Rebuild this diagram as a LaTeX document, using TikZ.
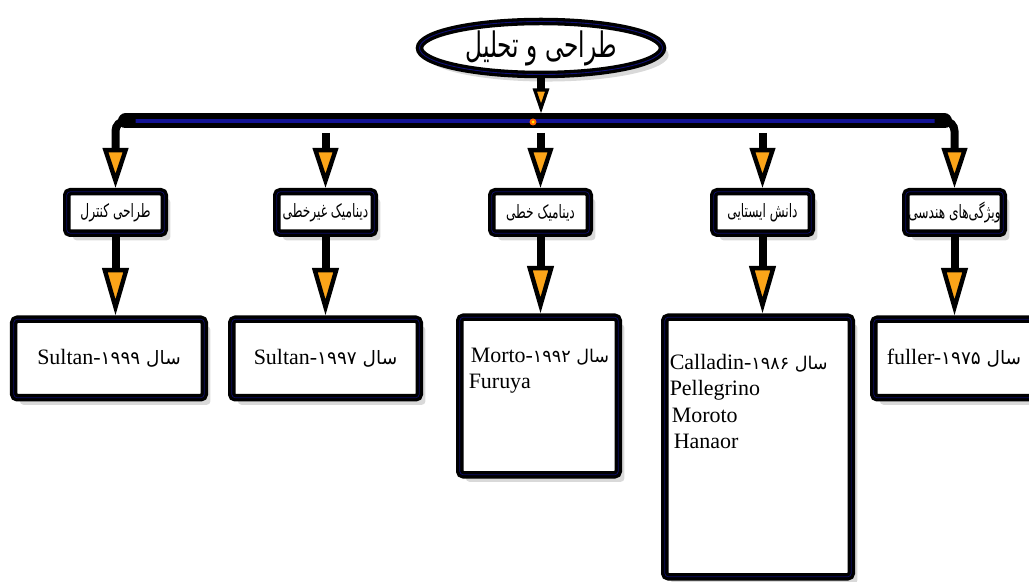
\documentclass[tikz,border=0pt]{standalone}
\usepackage{fontspec}
\setmainfont{Liberation Serif}
\newfontfamily\arabicfont[Script=Arabic]{DejaVu Sans}
\newfontfamily\arabicnarrow[Script=Arabic, FakeStretch=0.66]{DejaVu Sans}
\TeXXeTstate=1
\usetikzlibrary{positioning}
\usetikzlibrary{shapes.geometric}
\usetikzlibrary{arrows.meta}
\usetikzlibrary{shadows}
\definecolor{barblue}{RGB}{20,20,150}
\definecolor{flame}{RGB}{252,165,25}

\begin{document}
\begin{tikzpicture}[
    boxframe/.style={draw=black, line width=0.15cm, fill=white, rounded corners=2pt,
        drop shadow={shadow xshift=3.5pt, shadow yshift=-4pt, opacity=0.3},
        postaction={draw=barblue!70!black, line width=0.4pt}},
    topic/.style={boxframe, minimum width=1.95cm, minimum height=0.83cm, inner sep=1pt,
        font=\arabicnarrow\fontsize{10.5}{12}\selectfont},
    yearbox/.style={boxframe, inner sep=0pt, anchor=north, font=\fontsize{12.5}{14.8}\selectfont},
    rootnode/.style={ellipse, draw=black, line width=0.15cm, fill=white, inner sep=0pt,
        minimum width=4.86cm, minimum height=1.06cm,
        drop shadow={shadow xshift=3.5pt, shadow yshift=-4pt, opacity=0.3},
        postaction={draw=barblue!80!black, line width=0.5pt},
        font=\arabicnarrow\fontsize{20}{22}\selectfont},
    flow/.style={draw=black, line width=0.16cm},
    bushead/.style={-{Triangle[length=0.8cm, width=0.5cm, line width=2.5pt, fill=flame]}},
    boxhead/.style={-{Triangle[length=0.95cm, width=0.52cm, line width=2.5pt, fill=flame]}},
    smallhead/.style={-{Triangle[length=0.5cm, width=0.32cm, line width=1.8pt, fill=flame]}}
]
\useasboundingbox (0,0) rectangle (20.58,-11.64);

% top
\node[rootnode] (root) at (10.82,-0.96) {\beginR طراحی و تحلیل\endR};
\coordinate (bus) at (10.82,-2.42);

% topics
\node[topic] (t1) at (2.31,-4.25) {\beginR طراحی کنترل\endR};
\node[topic] (t2) at (6.51,-4.25) {\beginR دینامیک غیرخطی\endR};
\node[topic] (t3) at (10.81,-4.25) {\beginR دینامیک خطی\endR};
\node[topic] (t4) at (15.25,-4.25) {\beginR دانش ایستایی\endR};
\node[topic] (t5) at (19.09,-4.25) {\beginR ویژگی‌های هندسی\endR};

% years
\node[yearbox] (y1) at (2.18,-6.31) {\parbox[c][1.57cm][t]{3.81cm}{\centering\vspace*{0.6cm}Sultan-{\arabicfont\fontsize{10.5}{14.8}\selectfont ۱۹۹۹ \beginR سال\endR}}};
\node[yearbox] (y2) at (6.51,-6.31) {\parbox[c][1.57cm][t]{3.75cm}{\centering\vspace*{0.6cm}Sultan-{\arabicfont\fontsize{10.5}{14.8}\selectfont ۱۹۹۷ \beginR سال\endR}}};
\node[yearbox] (y3) at (10.78,-6.27) {\parbox[c][3.15cm][t]{3.17cm}{\raggedright\vspace*{0.62cm}\hspace*{0.22cm}Morto-{\arabicfont\fontsize{10}{14.8}\selectfont ۱۹۹۲ \beginR سال\endR}\\
    \hspace*{0.18cm}Furuya}};
\node[yearbox] (y4) at (15.16,-6.27) {\parbox[c][5.19cm][t]{3.73cm}{\raggedright\vspace*{0.75cm}\hspace*{0.1cm}Calladin-{\arabicfont\fontsize{10}{14.8}\selectfont ۱۹۸۶ \beginR سال\endR}\\
    \hspace*{0.1cm}Pellegrino\\
    \hspace*{0.14cm}Moroto\\
    \hspace*{0.18cm}Hanaor}};
\node[yearbox] (y5) at (19.15,-6.31) {\parbox[c][1.57cm][t]{3.35cm}{\raggedright\vspace*{0.6cm}\hspace*{0.26cm}fuller-{\arabicfont\fontsize{10.5}{14.8}\selectfont ۱۹۷۵ \beginR سال\endR}}};

% bus
\draw[flow, smallhead] (root.south) -- ([yshift=0.15cm]bus);
\draw[black, line width=0.3cm, line cap=round] ([xshift=0.2cm]bus -| t1) -- ([xshift=-0.2cm]bus -| t5);
\draw[barblue, line width=0.07cm] ([xshift=0.3cm]bus -| t1) -- ([xshift=-0.3cm]bus -| t5);
\fill[orange!80!red] (10.66,-2.44) circle [radius=0.07];
\fill[yellow] (10.66,-2.44) circle [radius=0.03];

\draw[flow, bushead, rounded corners=0.2cm] ([xshift=0.4cm]bus -| t1) -| (t1.north);
\draw[flow, bushead] ([yshift=-0.24cm]bus -| t2) -- (t2.north);
\draw[flow, bushead] ([yshift=-0.24cm]bus -| t3) -- (t3.north);
\draw[flow, bushead] ([yshift=-0.24cm]bus -| t4) -- (t4.north);
\draw[flow, bushead, rounded corners=0.2cm] ([xshift=-0.4cm]bus -| t5) -| (t5.north);

% down
\draw[flow, boxhead] (t1.south) -- (t1.south |- y1.north);
\draw[flow, boxhead] (t2.south) -- (t2.south |- y2.north);
\draw[flow, boxhead] (t3.south) -- (t3.south |- y3.north);
\draw[flow, boxhead] (t4.south) -- (t4.south |- y4.north);
\draw[flow, boxhead] (t5.south) -- (t5.south |- y5.north);
\end{tikzpicture}
\end{document}
